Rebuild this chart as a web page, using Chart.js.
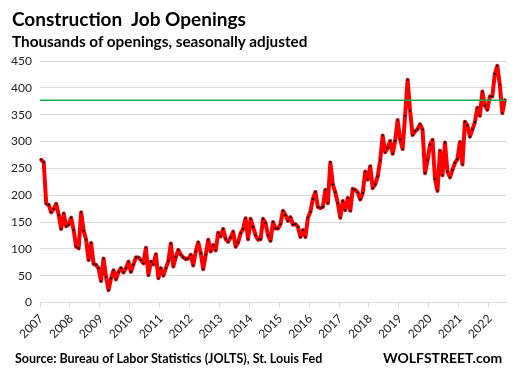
<!DOCTYPE html>
<html>
<head>
<meta charset="utf-8">
<script src="https://cdn.jsdelivr.net/npm/chart.js@4"></script>
<style>
  html, body { margin: 0; padding: 0; background: #fff; }
  #wrap { position: relative; width: 519px; height: 374px; font-family: Lato, "Open Sans", sans-serif; }
  #chart { position: absolute; left: 0; top: 0; }
  .txt { position: absolute; white-space: nowrap; font-weight: bold; color: #000; line-height: 1; }
  #title { left: 12px; top: 9px; font-size: 19px; }
  #subtitle { left: 12px; top: 34px; font-size: 15.3px; }
  #source { left: 15px; top: 353px; font-size: 12.5px; }
  #brand { left: 383px; top: 351px; font-size: 14px; }
</style>
</head>
<body>
<div id="wrap">
  <canvas id="chart" width="519" height="374"></canvas>
  <div class="txt" id="title">Construction&nbsp; Job Openings</div>
  <div class="txt" id="subtitle">Thousands of openings, seasonally adjusted</div>
  <div class="txt" id="source">Source: Bureau of Labor Statistics (JOLTS), St. Louis Fed</div>
  <div class="txt" id="brand">WOLFSTREET.com</div>
</div>
<script>
// year labels on the x axis, monthly data starts in January of the first one
const tickYears = ['2007', '2008', '2009', '2010', '2011', '2012', '2013', '2014',
    '2015', '2016', '2017', '2018', '2019', '2020', '2021', '2022'];

// construction job openings, thousands, one value per month
const openings = [
    266, 261, 184, 182, 168, 174, 184, 163, 137, 166, 142, 145,   // 2007
    158, 135, 104, 101, 168, 134, 117, 79, 111, 72, 70, 64,       // 2008
    40, 82, 48, 23, 45, 60, 43, 57, 64, 56, 64, 76,               // 2009
    57, 71, 84, 84, 79, 73, 102, 51, 76, 71, 90, 45,              // 2010
    64, 50, 64, 77, 110, 67, 85, 98, 89, 84, 81, 82,              // 2011
    89, 69, 95, 112, 92, 62, 89, 117, 95, 107, 97, 130,           // 2012
    123, 137, 118, 113, 121, 132, 104, 112, 129, 137, 157, 118,   // 2013
    156, 141, 125, 117, 118, 156, 148, 125, 115, 150, 138, 138,   // 2014
    146, 171, 163, 152, 159, 145, 146, 141, 122, 135, 122, 158,   // 2015
    169, 193, 206, 178, 176, 178, 210, 185, 261, 220, 205, 185,   // 2016
    158, 189, 172, 195, 171, 212, 210, 205, 192, 204, 244, 229,   // 2017
    254, 213, 220, 235, 265, 311, 280, 288, 301, 277, 301, 340,   // 2018
    304, 286, 348, 415, 357, 312, 319, 323, 332, 322, 241, 265,   // 2019
    294, 303, 230, 208, 283, 237, 298, 244, 233, 247, 260, 267,   // 2020
    299, 257, 337, 330, 309, 322, 336, 363, 348, 393, 367, 359,   // 2021
    384, 384, 426, 441, 406, 353, 377                             // 2022
];

const yTicks = [0, 50, 100, 150, 200, 250, 300, 350, 400, 450];

const startYear = Number(tickYears[0]);
const months = openings.map((v, i) =>
    (startYear + Math.floor(i / 12)) + '-' + String(i % 12 + 1).padStart(2, '0'));
const latest = openings[openings.length - 1];

const gridGrey = '#d9d9d9';
const labelFont = { family: 'Lato', size: 12 };

// horizontal green line at the latest value, across the whole plot
const latestLine = {
    id: 'latestLine',
    afterDatasetsDraw(chart) {
        const { ctx, chartArea, scales } = chart;
        const y = scales.y.getPixelForValue(latest);
        ctx.save();
        ctx.strokeStyle = '#00b050';
        ctx.lineWidth = 1.5;
        ctx.beginPath();
        ctx.moveTo(chartArea.left, y);
        ctx.lineTo(chartArea.right, y);
        ctx.stroke();
        ctx.restore();
    }
};

const ctx = document.getElementById('chart').getContext('2d');
const chart = new Chart(ctx, {
    type: 'line',
    data: {
        labels: months,
        datasets: [{
            label: 'Job openings',
            data: openings,
            borderColor: '#ff0000',
            borderWidth: 4,
            borderJoinStyle: 'round',
            borderCapStyle: 'round',
            tension: 0,
            pointRadius: 1.1,
            pointBorderWidth: 0,
            pointBackgroundColor: '#000000'
        }]
    },
    options: {
        responsive: false,
        animation: false,
        layout: { padding: { left: 0, right: 8, top: 61, bottom: 31.5 } },
        plugins: {
            legend: { display: false },
            tooltip: { enabled: false }
        },
        scales: {
            x: {
                type: 'category',
                offset: true,
                grid: {
                    offset: true,
                    drawOnChartArea: false,
                    tickLength: 5,
                    tickColor: (c) => (c.index % 12 === 0 ? gridGrey : 'rgba(0,0,0,0)')
                },
                border: { color: gridGrey },
                ticks: {
                    autoSkip: false,
                    minRotation: 45,
                    maxRotation: 45,
                    padding: 4,
                    color: '#222',
                    font: labelFont,
                    callback: (val, i) => (i % 12 === 0 ? tickYears[i / 12] : '')
                },
                afterFit: (s) => { s.height = 40; }
            },
            y: {
                min: yTicks[0],
                max: yTicks[yTicks.length - 1],
                afterBuildTicks: (s) => { s.ticks = yTicks.map(v => ({ value: v })); },
                grid: { color: gridGrey, drawTicks: false },
                border: { display: false },
                ticks: { padding: 8, color: '#222', font: labelFont },
                afterFit: (s) => { s.width = 40; }
            }
        }
    },
    plugins: [latestLine]
});
</script>
</body>
</html>
